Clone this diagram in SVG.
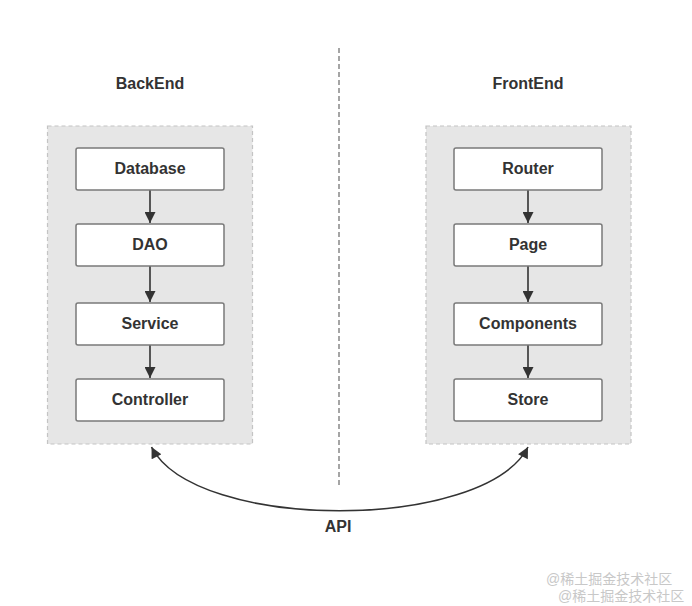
<svg xmlns="http://www.w3.org/2000/svg" width="692" height="606" viewBox="0 0 692 606">
<style>
.t{font-family:"Liberation Sans",Arial,sans-serif;font-weight:bold;font-size:16px;fill:#333;text-anchor:middle}
.grp{fill:#e6e6e6;stroke:#c4c4c4;stroke-width:1.2;stroke-dasharray:4 3}
.box{fill:#fff;stroke:#7a7a7a;stroke-width:1.5}
.ln{stroke:#333;stroke-width:1.6;fill:none}
.wm{font-family:"Liberation Sans","Noto Sans CJK SC",sans-serif;font-size:14px;fill:#c8c8c8}
</style>
<defs>
<marker id="ah2" viewBox="0 0 10 10" refX="10" refY="5" markerWidth="12" markerHeight="11" markerUnits="userSpaceOnUse" orient="auto-start-reverse">
<path d="M0,0 L10,5 L0,10 z" fill="#333"/>
</marker>
</defs>
<rect width="692" height="606" fill="#fff"/>
<line x1="339" y1="48" x2="339" y2="486" stroke="#888" stroke-width="1.5" stroke-dasharray="5 3"/>
<text class="t" x="150" y="89">BackEnd</text>
<text class="t" x="528" y="89">FrontEnd</text>
<rect class="grp" x="47.5" y="126" width="205" height="318"/>
<rect class="grp" x="426" y="126" width="205" height="318"/>
<g id="connectors">
<line class="ln" x1="150" y1="190" x2="150" y2="223" marker-end="url(#ah2)"/>
<line class="ln" x1="150" y1="266" x2="150" y2="302" marker-end="url(#ah2)"/>
<line class="ln" x1="150" y1="345" x2="150" y2="378" marker-end="url(#ah2)"/>
<line class="ln" x1="528" y1="190" x2="528" y2="223" marker-end="url(#ah2)"/>
<line class="ln" x1="528" y1="266" x2="528" y2="302" marker-end="url(#ah2)"/>
<line class="ln" x1="528" y1="345" x2="528" y2="378" marker-end="url(#ah2)"/>
<path class="ln" d="M151.5,447 C195,532 484,532 528,447" marker-start="url(#ah2)" marker-end="url(#ah2)"/>
<text class="t" x="338" y="532">API</text>
</g>
<g id="database"><rect class="box" x="76" y="148" width="148" height="42" rx="2"/><text class="t" x="150" y="174">Database</text></g>
<g id="dao"><rect class="box" x="76" y="224" width="148" height="42" rx="2"/><text class="t" x="150" y="250">DAO</text></g>
<g id="service"><rect class="box" x="76" y="303" width="148" height="42" rx="2"/><text class="t" x="150" y="329">Service</text></g>
<g id="controller"><rect class="box" x="76" y="379" width="148" height="42" rx="2"/><text class="t" x="150" y="405">Controller</text></g>
<g id="router"><rect class="box" x="454" y="148" width="148" height="42" rx="2"/><text class="t" x="528" y="174">Router</text></g>
<g id="page"><rect class="box" x="454" y="224" width="148" height="42" rx="2"/><text class="t" x="528" y="250">Page</text></g>
<g id="components"><rect class="box" x="454" y="303" width="148" height="42" rx="2"/><text class="t" x="528" y="329">Components</text></g>
<g id="store"><rect class="box" x="454" y="379" width="148" height="42" rx="2"/><text class="t" x="528" y="405">Store</text></g>
<text class="wm" x="546" y="584">@稀土掘金技术社区</text>
<text class="wm" x="558" y="601">@稀土掘金技术社区</text>
</svg>
